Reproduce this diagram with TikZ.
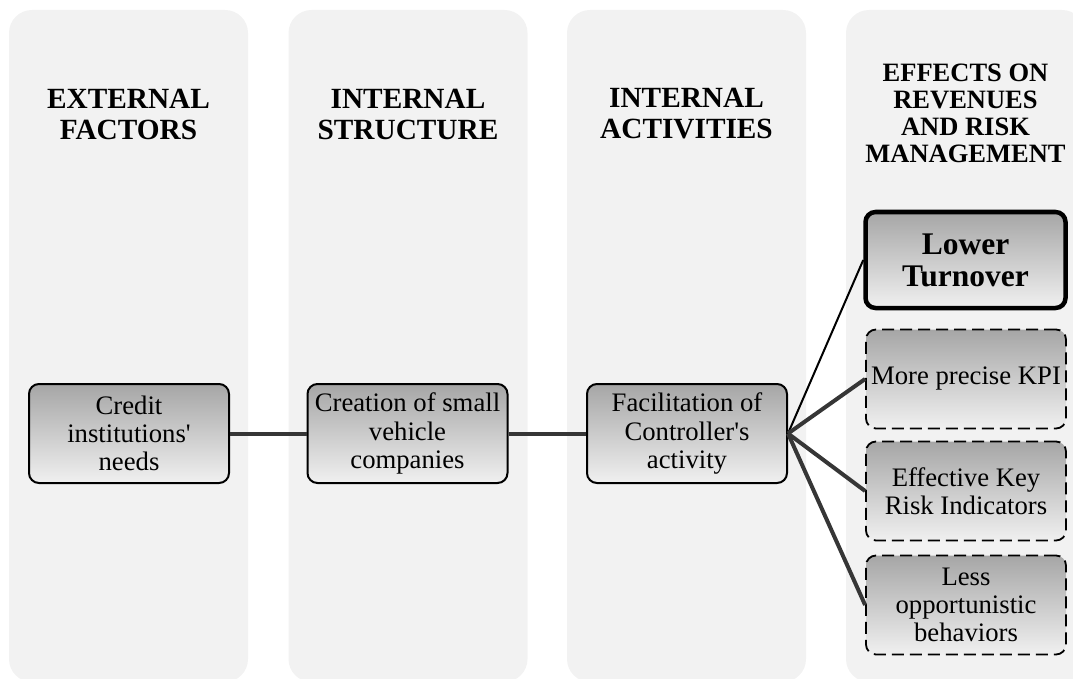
\documentclass[tikz,border=0pt]{standalone}
\usepackage{fontspec}
\setmainfont{Liberation Serif}

\definecolor{panelgray}{HTML}{F2F2F2}
\definecolor{linkgray}{HTML}{363636}
\definecolor{shadetop}{HTML}{A6A6A6}
\definecolor{shadebot}{HTML}{F0F0F0}

\tikzset{
  panel/.style={fill=panelgray, rounded corners=23pt},
  heading/.style={align=center, font=\bfseries\fontsize{29.3}{31}\selectfont},
  headingtight/.style={align=center, font=\bfseries\fontsize{26.5}{27}\selectfont},
  box/.style={rounded corners=10pt, top color=shadetop, bottom color=shadebot,
    minimum width=200pt, minimum height=99pt, inner sep=0pt, align=center,
    font=\fontsize{26.7}{28.2}\selectfont},
  flowbox/.style={box, draw=black, line width=2pt},
  mainbox/.style={box, draw=black, line width=4.5pt, minimum height=96pt,
    font=\bfseries\fontsize{31.5}{32}\selectfont},
  dashbox/.style={box, draw=black, line width=1.8pt, dash pattern=on 12pt off 6pt},
  thicklink/.style={draw=linkgray, line width=4pt},
  thinlink/.style={draw=black, line width=2pt},
}

\begin{document}
\begin{tikzpicture}[x=1pt, y=-1pt]
  \useasboundingbox (0,0) rectangle (1073,679);

  % column panels
  \begin{scope}
    \clip (0,0) rectangle (1073,679);
    \foreach \lx in {9, 288.5, 567, 846}
      \path[panel] (\lx,10) rectangle ++(239,672);
  \end{scope}

  % column headings
  \node[heading] (hext) at (128.5,114) {EXTERNAL\\FACTORS};
  \node[heading] (hstr) at (408,114) {INTERNAL\\STRUCTURE};
  \node[heading] (hact) at (686.5,114) {INTERNAL\\ACTIVITIES};
  \node[headingtight] (heff) at (965.5,113) {EFFECTS ON\\REVENUES\\AND RISK\\MANAGEMENT};

  % chain of factors
  \node[flowbox] (credit) at (129,433.5) {Credit\\institutions\textquotesingle\\needs};
  \node[flowbox] (creation) at (407.5,433.5) {Creation of small\\vehicle\\companies};
  \node[flowbox] (facil) at (687,433.5) {Facilitation of\\Controller\textquotesingle s\\activity};

  % effects
  \node[mainbox] (lower) at (965.5,260) {Lower\\Turnover};
  \node[dashbox] (kpi) at (966,379) {More precise KPI};
  \node[dashbox] (kri) at (966,491) {Effective Key\\Risk Indicators};
  \node[dashbox] (less) at (966,605) {Less\\opportunistic\\behaviors};

  % connectors
  \draw[thicklink] (credit.east) -- (creation.west);
  \draw[thicklink] (creation.east) -- (facil.west);
  \draw[thinlink] (facil.east) -- (lower.west);
  \draw[thicklink] (facil.east) -- (kpi.west);
  \draw[thicklink] (facil.east) -- (kri.west);
  \draw[thicklink] (facil.east) -- (less.west);
\end{tikzpicture}
\end{document}
